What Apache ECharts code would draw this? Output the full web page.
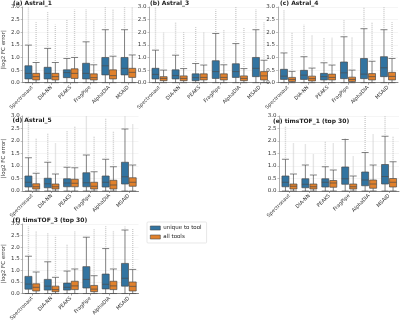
<!DOCTYPE html>
<html>
<head>
<meta charset="utf-8">
<script src="https://cdn.jsdelivr.net/npm/echarts@6/dist/echarts.min.js"></script>
<style>
  html, body { margin: 0; padding: 0; background: #fff; }
  #chart { width: 400px; height: 323px; }
</style>
</head>
<body>
<div id="chart"></div>
<script>
// tools on the x axis
const tools = ['Spectronaut', 'DIA-NN', 'PEAKS', 'FragPipe', 'AlphaDIA', 'MSAID']

// box values per tool: [lower whisker, Q1, median, Q3, upper whisker]
const astral1Unique = [[0, 0.15, 0.37, 0.67, 1.49], [0, 0.15, 0.37, 0.61, 1.36], [0, 0.2, 0.4, 0.51, 0.96], [0, 0.15, 0.37, 0.77, 1.62], [0, 0.31, 0.67, 1.0, 2.1], [0, 0.31, 0.57, 1.0, 2.1]]
const astral1All = [[0, 0.11, 0.24, 0.37, 0.8], [0, 0.11, 0.24, 0.37, 0.8], [0, 0.17, 0.37, 0.55, 1.0], [0, 0.11, 0.2, 0.35, 0.71], [0, 0.15, 0.28, 0.51, 1.05], [0, 0.21, 0.41, 0.57, 1.1]]
const astral1UniqueFliers = [3.0, 2.8, 2.5, 2.9, 3.0, 3.0]
const astral1AllFliers = [2.4, 2.3, 2.9, 2.5, 2.9, 3.0]

const astral3Unique = [[0, 0.15, 0.33, 0.57, 1.29], [0, 0.15, 0.28, 0.51, 1.09], [0, 0.08, 0.2, 0.35, 0.76], [0, 0.17, 0.44, 0.87, 1.95], [0, 0.21, 0.44, 0.75, 1.55], [0, 0.24, 0.57, 1.0, 2.1]]
const astral3All = [[0, 0.08, 0.17, 0.24, 0.5], [0, 0.08, 0.17, 0.27, 0.56], [0, 0.11, 0.21, 0.35, 0.7], [0, 0.11, 0.21, 0.35, 0.71], [0, 0.08, 0.17, 0.27, 0.56], [0, 0.11, 0.27, 0.44, 0.89]]
const astral3UniqueFliers = [3.0, 2.4, 2.2, 2.9, 3.0, 2.9]
const astral3AllFliers = [2.0, 2.0, 2.0, 2.1, 2.2, 2.4]

const astral4Unique = [[0, 0.13, 0.26, 0.53, 1.18], [0, 0.13, 0.3, 0.49, 1.03], [0, 0.11, 0.24, 0.37, 0.79], [0, 0.16, 0.39, 0.82, 1.82], [0, 0.16, 0.34, 0.96, 2.14], [0, 0.24, 0.59, 1.03, 2.1]]
const astral4All = [[0, 0.05, 0.13, 0.21, 0.45], [0, 0.07, 0.16, 0.26, 0.58], [0, 0.11, 0.21, 0.34, 0.7], [0, 0.05, 0.13, 0.22, 0.5], [0, 0.11, 0.24, 0.36, 0.85], [0, 0.11, 0.25, 0.41, 0.96]]
const astral4UniqueFliers = [2.9, 2.3, 1.8, 2.5, 3.0, 3.0]
const astral4AllFliers = [2.0, 1.9, 1.8, 1.8, 2.4, 2.4]

const astral5Unique = [[0, 0.16, 0.35, 0.6, 1.33], [0, 0.13, 0.29, 0.51, 1.15], [0, 0.17, 0.32, 0.49, 0.95], [0, 0.17, 0.33, 0.73, 1.44], [0, 0.16, 0.35, 0.6, 1.27], [0, 0.28, 0.57, 1.15, 2.48]]
const astral5All = [[0, 0.08, 0.17, 0.29, 0.71], [0, 0.08, 0.17, 0.28, 0.68], [0, 0.17, 0.31, 0.47, 0.93], [0, 0.08, 0.19, 0.35, 0.77], [0, 0.08, 0.24, 0.43, 0.97], [0, 0.19, 0.35, 0.53, 1.04]]
const astral5UniqueFliers = [3.0, 2.3, 2.4, 3.0, 2.9, 3.0]
const astral5AllFliers = [2.1, 1.9, 2.6, 2.2, 2.4, 2.7]

const tims1Unique = [[0, 0.17, 0.35, 0.6, 1.27], [0, 0.13, 0.27, 0.49, 1.04], [0, 0.16, 0.35, 0.49, 0.97], [0, 0.27, 0.49, 0.96, 2.06], [0, 0.21, 0.44, 0.76, 1.54], [0, 0.28, 0.58, 1.06, 2.19]]
const tims1All = [[0, 0.08, 0.19, 0.28, 0.68], [0, 0.08, 0.17, 0.28, 0.64], [0, 0.15, 0.32, 0.42, 0.84], [0, 0.08, 0.17, 0.28, 0.6], [0, 0.11, 0.28, 0.44, 1.04], [0, 0.16, 0.35, 0.5, 1.17]]
const tims1UniqueFliers = [2.6, 1.9, 2.0, 2.1, 3.0, 3.0]
const tims1AllFliers = [1.9, 1.5, 1.9, 1.4, 2.3, 2.2]

const tims3Unique = [[0, 0.19, 0.41, 0.74, 1.61], [0, 0.15, 0.32, 0.61, 1.37], [0, 0.15, 0.27, 0.45, 0.97], [0, 0.24, 0.61, 1.16, 2.43], [0, 0.2, 0.4, 0.84, 1.94], [0, 0.32, 0.66, 1.3, 2.74]]
const tims3All = [[0, 0.11, 0.27, 0.42, 0.93], [0, 0.08, 0.17, 0.32, 0.7], [0, 0.17, 0.33, 0.53, 1.06], [0, 0.08, 0.19, 0.35, 0.77], [0, 0.17, 0.33, 0.53, 1.06], [0, 0.11, 0.31, 0.5, 1.04]]
const tims3UniqueFliers = [2.9, 2.6, 2.1, 2.5, 2.9, 2.9]
const tims3AllFliers = [2.7, 2.5, 2.7, 2.8, 2.7, 2.8]

const uniqueColor = '#3274a1'
const allColor = '#e1812c'
const edgeColor = '#4a4a4a'
const font = 'DejaVu Sans'

// panel layout
const panels = [
  {title: '(a) Astral_1', t: [13, 0], g: {left: 19, top: 7, width: 119, height: 75.7}, yName: true, u: astral1Unique, a: astral1All, uf: astral1UniqueFliers, af: astral1AllFliers},
  {title: '(b) Astral_3', t: [150, 0], g: {left: 149.5, top: 7, width: 120.5, height: 75.7}, yName: false, u: astral3Unique, a: astral3All, uf: astral3UniqueFliers, af: astral3AllFliers},
  {title: '(c) Astral_4', t: [280, 0], g: {left: 278, top: 7, width: 120, height: 75.7}, yName: false, u: astral4Unique, a: astral4All, uf: astral4UniqueFliers, af: astral4AllFliers},
  {title: '(d) Astral_5', t: [12.5, 117], g: {left: 18.5, top: 116, width: 120, height: 75}, yName: true, u: astral5Unique, a: astral5All, uf: astral5UniqueFliers, af: astral5AllFliers},
  {title: '(e) timsTOF_1 (top 30)', t: [273, 118], g: {left: 279.5, top: 116, width: 119.5, height: 75}, yName: false, u: tims1Unique, a: tims1All, uf: tims1UniqueFliers, af: tims1AllFliers},
  {title: '(f) timsTOF_3 (top 30)', t: [12.5, 217], g: {left: 18.5, top: 224, width: 120, height: 75}, yName: true, u: tims3Unique, a: tims3All, uf: tims3UniqueFliers, af: tims3AllFliers}
]

// flier columns drawn at the same offset ECharts uses for two boxplot series
function flierRender(side) {
  return function (params, api) {
    const bw = api.size([1, 0])[0]
    const avail = bw * 0.8 - 2
    const gap = avail / 2 * 0.3
    const w = (avail - gap) / 2
    const off = w / 2 - avail / 2 + side * (gap + w)
    const p0 = api.coord([api.value(0), api.value(1)])
    const p1 = api.coord([api.value(0), api.value(2)])
    return {
      type: 'line',
      shape: {x1: p0[0] + off, y1: p0[1], x2: p1[0] + off, y2: p1[1]},
      style: {stroke: '#cccccc', lineWidth: 1.4, lineDash: [1, 1]}
    }
  }
}

const chart = echarts.init(document.getElementById('chart'), null, {renderer: 'canvas'})
let option = {
  animation: false,
  title: [], grid: [], xAxis: [], yAxis: [], series: [],
  legend: {
    data: [
      {name: 'unique to tool', itemStyle: {color: uniqueColor, borderColor: edgeColor, borderWidth: 0.6}},
      {name: 'all tools', itemStyle: {color: allColor, borderColor: edgeColor, borderWidth: 0.6}}
    ],
    orient: 'vertical', left: 147, top: 222,
    itemWidth: 10, itemHeight: 4, itemGap: 3,
    icon: 'rect',
    padding: [3, 5, 3, 3],
    borderColor: '#d8d8d8', borderWidth: 0.6, borderRadius: 1,
    textStyle: {fontSize: 5.5, color: '#222', fontFamily: font, padding: [0, 0, 0, -2]}
  }
}

panels.forEach(function (p, i) {
  option.title.push({
    text: p.title, left: p.t[0], top: p.t[1], padding: 0,
    textStyle: {fontSize: 6, fontWeight: 'bold', color: '#222', fontFamily: font}
  })
  option.grid.push(Object.assign({containLabel: false}, p.g))
  option.xAxis.push({
    type: 'category', gridIndex: i, data: tools, offset: 1,
    axisLine: {lineStyle: {color: '#666', width: 0.8}},
    axisTick: {show: true, alignWithLabel: true, length: 2, lineStyle: {color: '#666', width: 0.6}},
    axisLabel: {rotate: 45, fontSize: 5, margin: 3, color: '#333', interval: 0, fontFamily: font},
    splitLine: {show: false}
  })
  option.yAxis.push({
    type: 'value', gridIndex: i, min: 0, max: 3, interval: 0.5,
    name: p.yName ? '|log2 FC error|' : '',
    nameLocation: 'middle', nameGap: 10, nameRotate: 90,
    nameTextStyle: {fontSize: 5.5, color: '#333', fontFamily: font, padding: [0, 10, 0, 0]},
    axisLine: {show: true, lineStyle: {color: '#999', width: 0.8}},
    axisTick: {show: true, length: 2, lineStyle: {color: '#999', width: 0.6}},
    axisLabel: {fontSize: 5.5, margin: 3, color: '#333', fontFamily: font,
      formatter: function (v) { return v.toFixed(1) }},
    splitLine: {show: true, lineStyle: {color: '#eeeeee', width: 0.6}}
  })
  option.series.push({
    name: 'fliers-u', type: 'custom', xAxisIndex: i, yAxisIndex: i, silent: true, z: 1,
    renderItem: flierRender(0),
    data: p.uf.map(function (v, k) { return [k, p.u[k][4] + 0.06, v] })
  })
  option.series.push({
    name: 'fliers-a', type: 'custom', xAxisIndex: i, yAxisIndex: i, silent: true, z: 1,
    renderItem: flierRender(1),
    data: p.af.map(function (v, k) { return [k, p.a[k][4] + 0.06, v] })
  })
  option.series.push({
    name: 'unique to tool', type: 'boxplot', xAxisIndex: i, yAxisIndex: i, z: 3,
    boxWidth: [7, 7],
    itemStyle: {color: uniqueColor, borderColor: edgeColor, borderWidth: 0.7},
    data: p.u
  })
  option.series.push({
    name: 'all tools', type: 'boxplot', xAxisIndex: i, yAxisIndex: i, z: 3,
    boxWidth: [7, 7],
    itemStyle: {color: allColor, borderColor: edgeColor, borderWidth: 0.7},
    data: p.a
  })
})

chart.setOption(option)
</script>
</body>
</html>
